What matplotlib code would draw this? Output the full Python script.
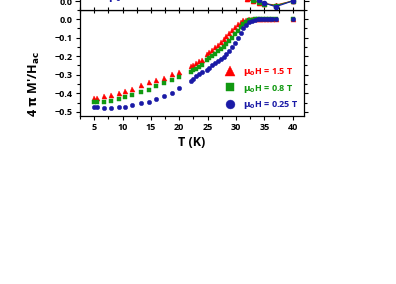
import numpy as np
import matplotlib
matplotlib.use('Agg')
import matplotlib.pyplot as plt
from matplotlib.ticker import MultipleLocator

## Data
temp_low = [5.0, 5.5, 6.7, 7.9, 9.3, 10.5, 11.7, 13.2, 14.6, 15.9, 17.3, 18.7, 20.0]
temp_high = [22.0, 22.5, 23.0, 23.5, 24.0, 24.8, 25.3, 25.8, 26.3, 26.8, 27.3, 27.8,
             28.3, 28.8, 29.3, 29.8, 30.3, 30.8, 31.3, 31.8, 32.3, 32.8, 33.3, 33.8,
             34.3, 34.8, 35.3, 35.8, 36.3, 37.0, 40.0]

red_low = [-0.425, -0.425, -0.415, -0.408, -0.398, -0.387, -0.376, -0.358, -0.340, -0.330, -0.315, -0.297, -0.283]
red_high = [-0.255, -0.245, -0.237, -0.228, -0.218, -0.187, -0.176, -0.164, -0.151, -0.138, -0.123, -0.107,
            -0.091, -0.074, -0.057, -0.040, -0.025, -0.013, -0.006, -0.002, 0.0, 0.0, 0.0, 0.0,
            0.0, 0.0, 0.0, 0.0, 0.0, 0.0, 0.0]

green_low = [-0.445, -0.445, -0.445, -0.440, -0.432, -0.420, -0.408, -0.394, -0.380, -0.362, -0.344, -0.326, -0.310]
green_high = [-0.283, -0.275, -0.267, -0.259, -0.250, -0.222, -0.210, -0.198, -0.186, -0.174, -0.162, -0.149,
              -0.136, -0.120, -0.101, -0.081, -0.062, -0.043, -0.027, -0.015, -0.007, -0.003, -0.001, 0.0,
              0.0, 0.0, 0.0, 0.0, 0.0, 0.0, 0.0]

blue_low = [-0.473, -0.476, -0.480, -0.480, -0.476, -0.473, -0.466, -0.455, -0.445, -0.430, -0.416, -0.398, -0.372]
blue_high = [-0.333, -0.321, -0.309, -0.297, -0.287, -0.272, -0.261, -0.250, -0.239, -0.228, -0.215, -0.202,
             -0.187, -0.170, -0.151, -0.129, -0.103, -0.076, -0.050, -0.030, -0.017, -0.008, -0.003, -0.001,
             0.0, 0.0, 0.0, 0.0, 0.0, 0.0, 0.0]

## upper panel (only its bottom edge is visible)
temp_top = [28, 29, 30, 31, 32, 33, 34, 35, 37, 40]
red_top = [0.30, 0.20, 0.12, 0.06, 0.02, 0.0, -0.01, -0.02, -0.035, 0.005]
green_top = [0.40, 0.30, 0.20, 0.10, 0.05, 0.015, -0.005, -0.02, -0.04, 0.005]
blue_top = [0.50, 0.40, 0.30, 0.20, 0.10, 0.04, 0.01, -0.015, -0.05, 0.005]

labels = [r'$\mathbf{\mu_0}$H = 1.5 T', r'$\mathbf{\mu_0}$H = 0.8 T', r'$\mathbf{\mu_0}$H = 0.25 T']
colors = ['#ff0000', '#119911', '#1a1aa6']
markers = ['^', 's', 'o']

plt.rcParams.update({'font.family': 'Open Sans', 'font.weight': 'bold',
                     'font.size': 6.5, 'axes.linewidth': 0.9,
                     'mathtext.default': 'bf'})

fig = plt.figure(figsize=(3.96, 2.84), dpi=100)
ax = fig.add_axes([0.202, 0.5915, 0.566, 0.3735])
ax_top = fig.add_axes([0.202, 0.965, 0.566, 0.4225])

lows = [red_low, green_low, blue_low]
highs = [red_high, green_high, blue_high]
tops = [red_top, green_top, blue_top]

for i in range(3):
    tt = temp_low + temp_high
    vv = lows[i] + highs[i]
    ax.plot(tt, vv, linestyle='none', marker=markers[i], color=colors[i],
            markersize=3.6 if i == 0 else 3.2, markeredgewidth=0.3, label=labels[i])
    ax_top.plot(temp_top, tops[i], color=colors[i], marker=markers[i],
                markersize=3, linewidth=0.8)

ax.set_xlim(2.5, 42)
ax.set_ylim(-0.523, 0.05)
ax.set_yticks([0.0, -0.1, -0.2, -0.3, -0.4, -0.5])
ax.set_xticks([5, 10, 15, 20, 25, 30, 35, 40])
ax.xaxis.set_minor_locator(MultipleLocator(2.5))
ax.yaxis.set_minor_locator(MultipleLocator(0.05))
ax.tick_params(which='both', direction='out', top=True, right=True, width=0.8, pad=2)
ax.tick_params(which='major', length=3)
ax.tick_params(which='minor', length=2)
ax.tick_params(axis='x', which='both', top=True, labeltop=False)
ax.set_xlabel('T (K)', fontsize=9, fontweight='bold', labelpad=3)
ax.set_ylabel(r"4 $\mathbf{\pi}$ M'/H$_{\mathbf{ac}}$", fontsize=9, fontweight='bold')
ax.yaxis.set_label_coords(-0.17, 0.3)

ax.legend(loc='lower right', bbox_to_anchor=(1.01, -0.03), frameon=False,
          labelcolor='linecolor', markerscale=2.0, handletextpad=0.7,
          handlelength=1.5, labelspacing=0.5, fontsize=6.5)

ax_top.set_xlim(2.5, 42)
ax_top.set_ylim(-0.08, 1.05)
ax_top.set_yticks([0.0, 0.2, 0.4, 0.6, 0.8, 1.0])
ax_top.set_xticks([5, 10, 15, 20, 25, 30, 35, 40])
ax_top.xaxis.set_minor_locator(MultipleLocator(2.5))
ax_top.tick_params(which='both', direction='out', right=True, width=0.8, pad=2,
                   labelbottom=False)
ax_top.tick_params(axis='x', which='both', direction='inout', length=4)
ax_top.text(7.5, 0.014, r'$\mathbf{\mu_0}$', color=colors[2], fontsize=7, va='baseline')

fig.savefig('out.png', dpi=100)
